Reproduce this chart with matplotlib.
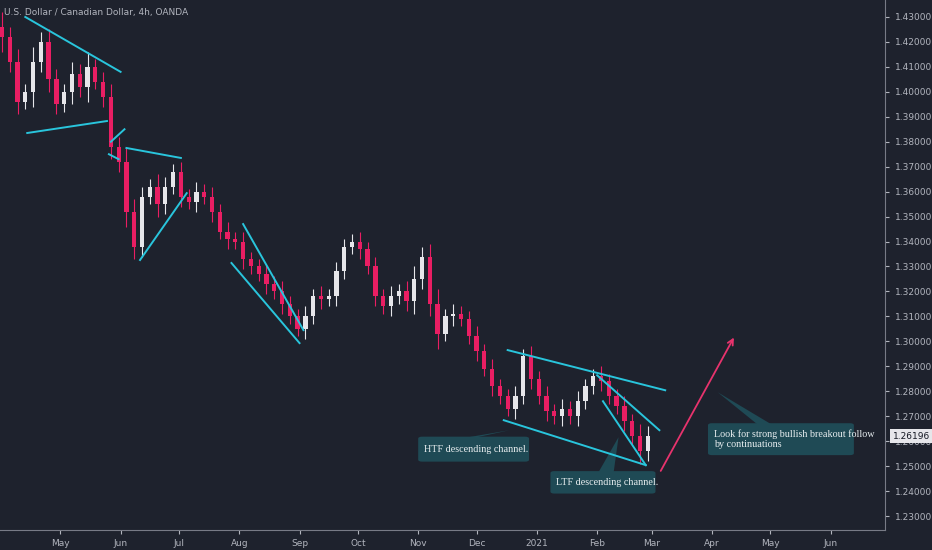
import matplotlib.pyplot as plt
import matplotlib.dates as mdates
import numpy as np
import pandas as pd
from matplotlib.patches import FancyBboxPatch, Polygon

# 4-day candles (close values)
start = pd.Timestamp("2020-04-01")
closes = [1.422, 1.412, 1.396, 1.400, 1.412, 1.420, 1.405, 1.395, 1.400, 1.407,
          1.402, 1.410, 1.404, 1.398, 1.378, 1.372, 1.352, 1.338, 1.358, 1.362,
          1.355, 1.362, 1.368, 1.358, 1.356, 1.360, 1.358, 1.352, 1.344, 1.341,
          1.340, 1.333, 1.330, 1.327, 1.323, 1.320, 1.315, 1.310, 1.305, 1.310,
          1.318, 1.317, 1.318, 1.328, 1.338, 1.340, 1.337, 1.330, 1.318, 1.314,
          1.318, 1.320, 1.316, 1.325, 1.334, 1.315, 1.303, 1.310, 1.311, 1.309,
          1.302, 1.296, 1.289, 1.282, 1.278, 1.273, 1.278, 1.294, 1.285, 1.278,
          1.272, 1.270, 1.273, 1.270, 1.276, 1.282, 1.286, 1.284, 1.278, 1.274,
          1.268, 1.262, 1.256, 1.26196]
wicks = [0.006, 0.004, 0.005, 0.003, 0.006, 0.004, 0.005, 0.004, 0.003, 0.005,
         0.004, 0.006, 0.003, 0.004, 0.005, 0.004, 0.006, 0.005, 0.004, 0.003,
         0.005, 0.004, 0.003, 0.004, 0.003, 0.004, 0.003, 0.004, 0.003, 0.004,
         0.003, 0.004, 0.003, 0.003, 0.004, 0.003, 0.004, 0.003, 0.003, 0.004,
         0.003, 0.004, 0.003, 0.004, 0.003, 0.003, 0.004, 0.003, 0.004, 0.003,
         0.004, 0.003, 0.004, 0.005, 0.004, 0.005, 0.006, 0.003, 0.004, 0.003,
         0.003, 0.004, 0.003, 0.004, 0.003, 0.003, 0.004, 0.003, 0.004, 0.003,
         0.004, 0.003, 0.004, 0.003, 0.004, 0.003, 0.003, 0.004, 0.003, 0.003,
         0.004, 0.003, 0.005, 0.004]

# trendlines: (date1, price1, date2, price2)
trendlines = [
    ("2020-04-13", 1.4300, "2020-06-01", 1.4080),
    ("2020-04-14", 1.3835, "2020-05-25", 1.3883),
    ("2020-05-26", 1.3750, "2020-05-31", 1.3730),
    ("2020-05-27", 1.3800, "2020-06-03", 1.3850),
    ("2020-06-04", 1.3775, "2020-07-02", 1.3735),
    ("2020-06-11", 1.3326, "2020-07-05", 1.3594),
    ("2020-08-03", 1.3470, "2020-09-03", 1.3045),
    ("2020-07-28", 1.3314, "2020-09-01", 1.2993),
    ("2020-12-17", 1.2965, "2021-03-08", 1.2804),
    ("2020-12-15", 1.2684, "2021-02-26", 1.2504),
    ("2021-02-01", 1.2864, "2021-03-05", 1.2644),
    ("2021-02-04", 1.2760, "2021-02-26", 1.2504),
]
ticks_y = [1.23, 1.24, 1.25, 1.26, 1.27, 1.28, 1.29, 1.30, 1.31, 1.32, 1.33,
           1.34, 1.35, 1.36, 1.37, 1.38, 1.39, 1.40, 1.41, 1.42, 1.43]
month_dates = ["2020-05-01", "2020-06-01", "2020-07-01", "2020-08-01", "2020-09-01",
               "2020-10-01", "2020-11-01", "2020-12-01", "2021-01-01", "2021-02-01",
               "2021-03-01", "2021-04-01", "2021-05-01", "2021-06-01"]
month_labels = ["May", "Jun", "Jul", "Aug", "Sep", "Oct", "Nov", "Dec", "2021",
                "Feb", "Mar", "Apr", "May", "Jun"]

BG = "#1e222d"
TXT = "#b2b5be"
UP = "#e6e6ea"
DN = "#e91e63"
CYAN = "#29c5dc"
BOX = "#1f4a55"

fig = plt.figure(figsize=(9.32, 5.5), dpi=100, facecolor=BG)
ax = fig.add_axes([0, 20 / 550, 885 / 932, 530 / 550], facecolor=BG)

dates = [start + pd.Timedelta(days=4 * i) for i in range(len(closes))]
xs = mdates.date2num(dates)
opens = [closes[0] + 0.004] + closes[:-1]
for x, o, c, w in zip(xs, opens, closes, wicks):
    col = UP if c >= o else DN
    hi = max(o, c) + w
    lo = min(o, c) - w
    ax.vlines(x, lo, hi, color=col, lw=0.8)
    ax.bar(x, max(abs(c - o), 0.0006), bottom=min(o, c), width=2.2, color=col, lw=0)

for d1, p1, d2, p2 in trendlines:
    ax.plot(mdates.date2num([pd.Timestamp(d1), pd.Timestamp(d2)]), [p1, p2],
            color=CYAN, lw=1.4)

# arrow
ax.annotate("", xy=(mdates.date2num(pd.Timestamp("2021-04-13")), 1.3025),
            xytext=(mdates.date2num(pd.Timestamp("2021-03-05")), 1.2471),
            arrowprops=dict(arrowstyle="->", color="#e8336d", lw=1.3))

def note(d, p, text, tip_d, tip_p, w, h, b0, b1):
    x = mdates.date2num(pd.Timestamp(d))
    tx = mdates.date2num(pd.Timestamp(tip_d))
    top = p + h / 2
    ax.add_patch(Polygon([[x + w * b0, top - 0.001], [x + w * b1, top - 0.001], [tx, tip_p]],
                         closed=True, color=BOX, lw=0))
    ax.add_patch(FancyBboxPatch((x, p - h / 2), w, h,
                                boxstyle="round,pad=0,rounding_size=2",
                                mutation_aspect=0.0004, color=BOX, lw=0))
    ax.text(x + 3, p, text, color="#e8eef0", fontsize=7.3, va="center",
            family="Liberation Serif", linespacing=1.05)

note("2020-11-01", 1.2568, "HTF descending channel.", "2020-12-18", 1.2644, 57, 0.0100, 0.35, 0.45)
note("2021-01-08", 1.2435, "LTF descending channel.", "2021-02-12", 1.2616, 54, 0.0090, 0.45, 0.6)
note("2021-03-30", 1.2608, "Look for strong bullish breakout follow\nby continuations",
     "2021-04-04", 1.2796, 75, 0.0128, 0.35, 0.45)

ax.set_xlim(mdates.date2num(pd.Timestamp("2020-03-31")),
            mdates.date2num(pd.Timestamp("2021-06-29")))
ax.set_ylim(1.2244, 1.4368)
ax.yaxis.tick_right()
ax.set_yticks(ticks_y)
ax.set_yticklabels([f"{t:.5f}" for t in ticks_y])
ax.set_xticks(mdates.date2num([pd.Timestamp(d) for d in month_dates]))
ax.set_xticklabels(month_labels)
ax.tick_params(colors=TXT, labelsize=6.5, length=3)
ax.tick_params(axis="y", pad=4)
for s in ["top", "left"]:
    ax.spines[s].set_visible(False)
for s in ["right", "bottom"]:
    ax.spines[s].set_color("#787b86")

ax.text(1.009, 1.26196, "1.26196", transform=ax.get_yaxis_transform(),
        fontsize=6.5, color="#131722", va="center", ha="left",
        bbox=dict(boxstyle="square,pad=0.3", fc="#e6e6ea", ec="none"))
fig.text(0.004, 0.985, "U.S. Dollar / Canadian Dollar, 4h, OANDA", color=TXT,
         fontsize=6.5, va="top")

fig.savefig("out.png", dpi=100, facecolor=BG)
